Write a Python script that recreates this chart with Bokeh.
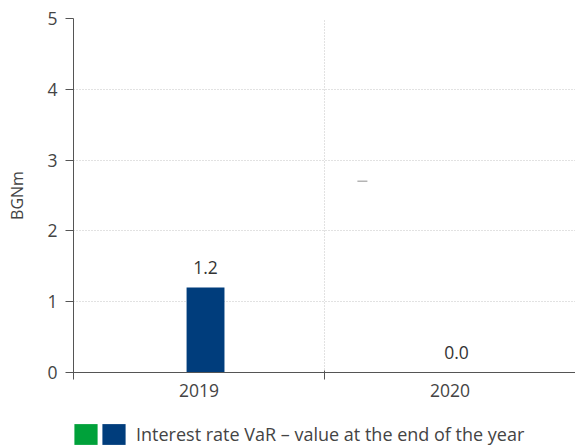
from bokeh.plotting import figure
from bokeh.layouts import column
from bokeh.models import (ColumnDataSource, Range1d, FixedTicker,
                          Legend, LegendItem)
from bokeh.core.properties import value
from bokeh.embed import file_html
from bokeh.resources import INLINE

# ---- data ----
years = ["2019", "2020"]
var_end_of_year = [1.2, 0.0]          # blue series
other_series = [0.0, 0.0]             # green series (not visible)
value_labels = ["1.2", "0.0"]
y_ticks = [0, 1, 2, 3, 4, 5]
dash_years = ["2020"]
dash_values = [2.7]
legend_label = "Interest rate VaR \u2013 value at the end of the year"

FONT = "Open Sans"
BLUE = "#003d7c"
GREEN = "#00a13a"
AXIS = "#555555"
TXT = "#444444"
GRID = "#c4c4c4"

n = len(years)
pos = {y: i + 0.5 for i, y in enumerate(years)}   # category centres
BAR_SHIFT = 0.026
DASH_SHIFT = -0.349

src = ColumnDataSource(dict(x=[pos[y] + BAR_SHIFT for y in years],
                            var=var_end_of_year, other=other_series,
                            lab=value_labels))
dsrc = ColumnDataSource(dict(x=[pos[y] + DASH_SHIFT for y in dash_years],
                             v=dash_values))

p = figure(x_range=Range1d(0, n), y_range=Range1d(0, 5), width=575, height=405,
           output_backend="svg", toolbar_location=None,
           min_border_left=73, min_border_right=0, min_border_top=18,
           min_border_bottom=33)
p.outline_line_color = None
p.background_fill_color = "white"

# bars
p.vbar(x="x", top="other", width=0.151, source=src,
       fill_color=GREEN, line_color=None)
p.vbar(x="x", top="var", width=0.151, source=src,
       fill_color=BLUE, line_color=None)

# value labels
p.text(x="x", y="var", text="lab", source=src,
       text_align="center", text_baseline="bottom", y_offset=-14,
       text_font=value(FONT), text_font_size="17.5px", text_color="#333333")

# small dash mark
p.scatter(x="x", y="v", source=dsrc, marker="dash", size=10,
          line_color="#b4b4b4", line_width=1.5)

# y axis
p.yaxis.ticker = FixedTicker(ticks=y_ticks)
p.yaxis.axis_line_color = AXIS
p.yaxis.major_tick_line_color = AXIS
p.yaxis.major_tick_in = 0
p.yaxis.major_tick_out = 8
p.yaxis.minor_tick_line_color = None
p.yaxis.major_label_text_font = FONT
p.yaxis.major_label_text_font_size = "17.5px"
p.yaxis.major_label_text_color = TXT
p.yaxis.major_label_standoff = 8
p.yaxis.axis_label = "BGNm"
p.yaxis.axis_label_text_font = FONT
p.yaxis.axis_label_text_font_size = "16px"
p.yaxis.axis_label_text_font_style = "normal"
p.yaxis.axis_label_text_color = TXT
p.yaxis.axis_label_standoff = 16

p.ygrid.ticker = FixedTicker(ticks=y_ticks[1:])
p.ygrid.grid_line_color = GRID
p.ygrid.grid_line_dash = "1 2"

# x axis: labels at category centres, ticks on category boundaries
xa = p.xaxis[0]
xa.ticker = FixedTicker(ticks=[pos[y] for y in years],
                        minor_ticks=list(range(n + 1)))
xa.major_label_overrides = {pos[y]: y for y in years}
xa.major_tick_in = 0
xa.major_tick_out = 0
xa.major_tick_line_color = None
xa.minor_tick_in = 2
xa.minor_tick_out = 7
xa.minor_tick_line_color = AXIS
xa.axis_line_color = AXIS
xa.major_label_text_font = FONT
xa.major_label_text_font_size = "17.5px"
xa.major_label_text_color = TXT
xa.major_label_standoff = 4

p.xgrid.ticker = FixedTicker(ticks=list(range(1, n)))
p.xgrid.grid_line_color = GRID
p.xgrid.grid_line_dash = "1 2"

# ---- legend strip (its frame is aligned with the chart frame) ----
# ranges chosen so the legend's source glyphs fall outside this strip
q = figure(x_range=Range1d(-10, -8), y_range=Range1d(-20, -10), width=575,
           height=42, output_backend="svg", toolbar_location=None,
           x_axis_location=None, y_axis_location=None,
           min_border_left=0, min_border_right=0, min_border_top=0,
           min_border_bottom=0)
q.outline_line_color = None
q.xgrid.visible = False
q.ygrid.visible = False
g = q.vbar(x="x", top="other", width=0.151, source=src,
           fill_color=GREEN, line_color=None)
b = q.vbar(x="x", top="var", width=0.151, source=src,
           fill_color=BLUE, line_color=None)

common = dict(orientation="horizontal", glyph_width=29, glyph_height=26,
              padding=0, margin=0, border_line_color=None,
              background_fill_alpha=0, label_text_font=FONT,
              label_text_font_size="18px", label_text_color=TXT)
leg_g = Legend(items=[LegendItem(label=" ", renderers=[g])],
               location=(-2, 0), label_standoff=0, label_width=0, **common)
leg_b = Legend(items=[LegendItem(label=legend_label, renderers=[b])],
               location=(26, 0), label_standoff=8, **common)
q.add_layout(leg_g)
q.add_layout(leg_b)

layout = column(p, q, spacing=0)
open("out.html", "w").write(file_html(layout, INLINE))
